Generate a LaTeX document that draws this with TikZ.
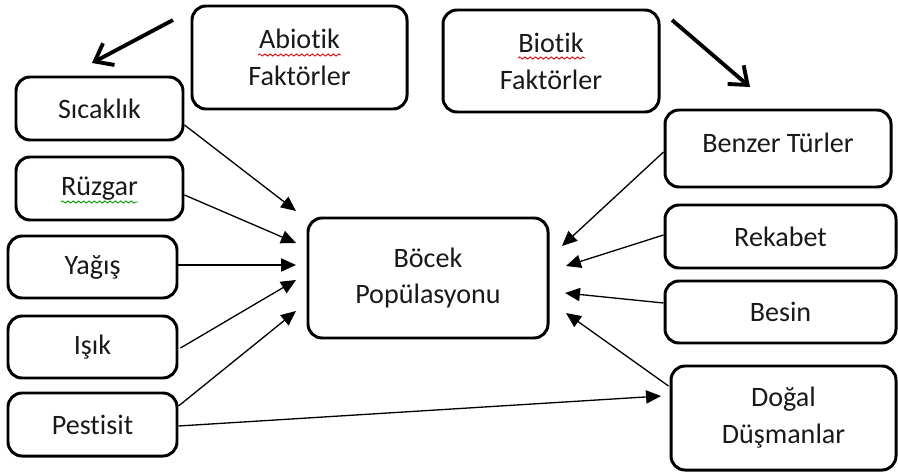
\documentclass[tikz,border=0pt]{standalone}
\usepackage{fontspec}
\setmainfont{Carlito}[Ligatures=NoCommon]
\usetikzlibrary{arrows.meta,calc,decorations.pathmorphing}
\begin{document}
\begin{tikzpicture}[x=0.02cm,y=-0.02cm,
  box/.style={draw,line width=1.7pt,rounded corners=8pt,align=center,
    font=\fontsize{16}{21}\selectfont,inner sep=0pt,text=black!90},
  wh/.style 2 args={minimum width=#1*0.02cm,minimum height=#2*0.02cm},
  conn/.style={line width=0.75pt,-{Triangle[length=8.5pt,width=7.5pt]}},
  bigarrow/.style={line width=2.2pt,-{Straight Barb[length=9pt,width=14pt]}},
  spell/.style={line width=0.5pt,decorate,decoration={snake,amplitude=0.6pt,segment length=3pt}}]
\useasboundingbox (0,0) rectangle (898,473);
% boxes
\node[box,wh={215}{103}] (abio) at (299.5,57.5) {Abiotik\\Faktörler};
\node[box,wh={216}{102}] (bio) at (551,61) {Biotik\\Faktörler};
\node[box,wh={167}{63}] (sic) at (99.5,108.5) {Sıcaklık};
\node[box,wh={167}{63}] (ruz) at (99.5,188.5) {Rüzgar};
\node[box,wh={169}{62}] (yag) at (92.5,267) {Yağış};
\node[box,wh={169}{62}] (isik) at (92.5,347) {Işık};
\node[box,wh={169}{63}] (pest) at (92.5,424.5) {Pestisit};
\node[box,wh={240}{120}] (bocek) at (428,278) {Böcek\\Popülasyonu};
\node[box,wh={226}{77},text depth=7pt] (benzer) at (778,148.5) {Benzer Türler};
\node[box,wh={231}{63}] (rek) at (780.5,236.5) {Rekabet};
\node[box,wh={231}{62}] (besin) at (780.5,312) {Besin};
\node[box,wh={225}{104}] (dogal) at (783.5,418) {Doğal\\Düşmanlar};
% spell-check underlines
\draw[spell,red!85!black] ($(abio.center)+(-41.5,-2.5)$) -- ++(83,0);
\draw[spell,red!85!black] ($(bio.center)+(-33,-3)$) -- ++(67,0);
\draw[spell,green!60!black] ($(ruz.center)+(-38.5,13.5)$) -- ++(77,0);
% free ends
\coordinate (a1s) at (173,20);
\coordinate (a1e) at (92,63);
\coordinate (a2s) at (672,20);
\coordinate (a2e) at (750,87);
\coordinate (t1) at (296,211);
\coordinate (t2) at (296,243);
\coordinate (t3) at (296,265);
\coordinate (t4) at (296,280);
\coordinate (t5) at (296,311);
\coordinate (t6) at (661,396);
\coordinate (r1) at (562,246);
\coordinate (r2) at (566,266);
\coordinate (r3) at (565,293);
\coordinate (r4) at (566,313);
% big arrows
\draw[bigarrow] (a1s) -- (a1e);
\draw[bigarrow] (a2s) -- (a2e);
% connectors
\draw[conn] ($(sic.east)+(0,16.5)$) -- (t1);
\draw[conn] ($(ruz.east)+(0,6.5)$) -- (t2);
\draw[conn] ($(yag.east)+(0,-2)$) -- (t3);
\draw[conn] ($(isik.east)+(2,1)$) -- (t4);
\draw[conn] ($(pest.east)+(0,-18.5)$) -- (t5);
\draw[conn] ($(pest.east)+(0,1.5)$) -- (t6);
\draw[conn] ($(benzer.west)+(0,3.5)$) -- (r1);
\draw[conn] ($(rek.west)+(0,-1.5)$) -- (r2);
\draw[conn] ($(besin.west)+(0,-9)$) -- (r3);
\draw[conn] ($(dogal.west)+(-1,-32)$) -- (r4);
\end{tikzpicture}
\end{document}
